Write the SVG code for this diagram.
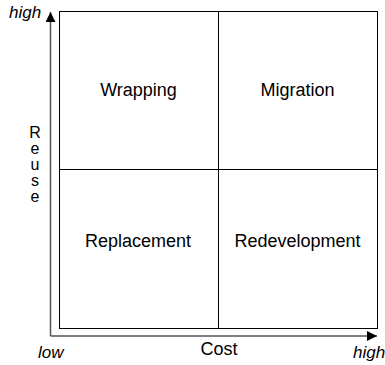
<svg xmlns="http://www.w3.org/2000/svg" width="385" height="365" viewBox="0 0 385 365">
<style>
.lbl{font-family:"Liberation Sans",Arial,sans-serif;font-size:18px;fill:#000;text-anchor:middle}
.rs{font-family:"Liberation Sans",Arial,sans-serif;font-size:16px;fill:#000;text-anchor:middle}
.ax{font-family:"Liberation Sans",Arial,sans-serif;font-size:17px;font-style:italic;fill:#000}
.grid{fill:none;stroke:#000;stroke-width:1}
.axis{fill:none;stroke:#555;stroke-width:1.5}
</style>
<defs>
<marker id="arr" viewBox="0 0 10 10" refX="10" refY="5" markerWidth="10" markerHeight="10" markerUnits="userSpaceOnUse" orient="auto">
<path d="M0,0 L10,5 L0,10 Z" fill="#000"/>
</marker>
</defs>
<g id="connectors">
<path class="axis" d="M50.5,336 L50.5,12" marker-end="url(#arr)"/>
<path class="axis" d="M50.5,336 L377,336" marker-end="url(#arr)"/>
</g>
<g id="grid">
<rect class="grid" x="59.5" y="11.5" width="318" height="317"/>
<line class="grid" x1="218.5" y1="11.5" x2="218.5" y2="328.5"/>
<line class="grid" x1="59.5" y1="169.5" x2="377.5" y2="169.5"/>
</g>
<g id="wrapping"><text class="lbl" x="138.5" y="96">Wrapping</text></g>
<g id="migration"><text class="lbl" x="297.5" y="96">Migration</text></g>
<g id="replacement"><text class="lbl" x="138" y="247">Replacement</text></g>
<g id="redevelopment"><text class="lbl" x="297.5" y="247">Redevelopment</text></g>
<g id="axis-labels">
<text class="lbl" x="219" y="355">Cost</text>
<text class="ax" x="9" y="18">high</text>
<text class="ax" x="38" y="358">low</text>
<text class="ax" x="353" y="358">high</text>
<text class="rs" x="35" y="137.5">R</text>
<text class="rs" x="35" y="153.5">e</text>
<text class="rs" x="35" y="169.5">u</text>
<text class="rs" x="35" y="185.5">s</text>
<text class="rs" x="35" y="201.5">e</text>
</g>
</svg>
